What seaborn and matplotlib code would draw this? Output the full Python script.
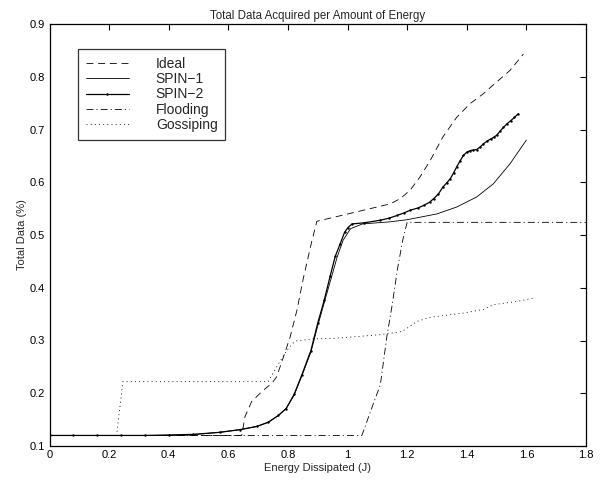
import matplotlib
matplotlib.use("Agg")
import matplotlib.pyplot as plt
import seaborn as sns

# ---------------- data ----------------
ideal_x = [0, 0.645, 0.656, 0.678, 0.712, 0.746, 0.762, 0.785, 0.807, 0.83, 0.852, 0.88, 0.897,
           0.942, 1.054, 1.143, 1.177, 1.21, 1.243, 1.277, 1.32, 1.366, 1.411, 1.456, 1.5, 1.545, 1.59]
ideal_y = [0.12, 0.12, 0.156, 0.184, 0.203, 0.219, 0.231, 0.269, 0.306, 0.357, 0.419, 0.488, 0.526,
           0.532, 0.547, 0.559, 0.569, 0.585, 0.61, 0.641, 0.686, 0.723, 0.749, 0.768, 0.79, 0.812, 0.843]

spin1_x = [0, 0.45, 0.572, 0.639, 0.695, 0.734, 0.768, 0.794, 0.821, 0.846, 0.877, 0.9, 0.922, 0.945,
           0.965, 0.985, 1.01, 1.05, 1.143, 1.2, 1.3, 1.366, 1.433, 1.489, 1.545, 1.6]
spin1_y = [0.12, 0.12, 0.126, 0.131, 0.137, 0.145, 0.158, 0.171, 0.197, 0.232, 0.278, 0.328, 0.372, 0.418,
           0.458, 0.49, 0.512, 0.521, 0.525, 0.529, 0.540, 0.553, 0.572, 0.597, 0.635, 0.68]

spin2_x = [0, 0.08, 0.16, 0.24, 0.32, 0.40, 0.482, 0.572, 0.639, 0.695, 0.734, 0.768, 0.794, 0.821,
           0.846, 0.877, 0.9, 0.922, 0.942, 0.959, 0.975, 0.99, 1.001, 1.015, 1.054, 1.11, 1.14, 1.166,
           1.19, 1.21, 1.235, 1.255, 1.275, 1.289, 1.305, 1.32, 1.333, 1.345, 1.356, 1.366, 1.378, 1.389,
           1.4, 1.411, 1.422, 1.433, 1.445, 1.456, 1.468, 1.48, 1.49, 1.5, 1.512, 1.523, 1.535, 1.548,
           1.56, 1.573]
spin2_y = [0.12, 0.12, 0.12, 0.12, 0.12, 0.121, 0.122, 0.126, 0.131, 0.137, 0.145, 0.158, 0.171, 0.198,
           0.234, 0.281, 0.333, 0.377, 0.423, 0.46, 0.483, 0.505, 0.514, 0.521, 0.523, 0.528, 0.532, 0.537,
           0.542, 0.547, 0.551, 0.556, 0.562, 0.569, 0.578, 0.591, 0.599, 0.607, 0.618, 0.629, 0.641, 0.651,
           0.657, 0.66, 0.661, 0.662, 0.667, 0.673, 0.678, 0.682, 0.685, 0.689, 0.697, 0.704, 0.711, 0.717,
           0.723, 0.73]

flood_x = [0, 1.048, 1.087, 1.11, 1.132, 1.149, 1.168, 1.185, 1.2, 1.8]
flood_y = [0.12, 0.12, 0.181, 0.216, 0.308, 0.365, 0.437, 0.49, 0.524, 0.524]

goss_x = [0, 0.225, 0.246, 0.734, 0.762, 0.796, 0.824, 0.886, 0.953, 1.11, 1.182, 1.21, 1.232, 1.277,
          1.389, 1.456, 1.49, 1.568, 1.621]
goss_y = [0.12, 0.12, 0.222, 0.222, 0.25, 0.281, 0.299, 0.303, 0.304, 0.311, 0.317, 0.327, 0.336, 0.344,
          0.352, 0.359, 0.368, 0.374, 0.38]

labels = ["Ideal", "SPIN\u22121", "SPIN\u22122", "Flooding", "Gossiping"]
x_ticks = [0, 0.2, 0.4, 0.6, 0.8, 1.0, 1.2, 1.4, 1.6, 1.8]
x_ticklabels = ["0", "0.2", "0.4", "0.6", "0.8", "1", "1.2", "1.4", "1.6", "1.8"]
y_ticks = [0.1, 0.2, 0.3, 0.4, 0.5, 0.6, 0.7, 0.8, 0.9]
y_ticklabels = ["0.1", "0.2", "0.3", "0.4", "0.5", "0.6", "0.7", "0.8", "0.9"]

# ---------------- style ----------------
sns.set_theme(style="white")
plt.rcParams["font.family"] = ["Liberation Sans", "DejaVu Sans"]
plt.rcParams["lines.scale_dashes"] = False
plt.rcParams["axes.edgecolor"] = "black"
plt.rcParams["axes.linewidth"] = 0.9

fig = plt.figure(figsize=(6.05, 4.82), dpi=100)
ax = fig.add_axes([49.5 / 605, (482 - 446) / 482, (586 - 49.5) / 605, (446 - 24) / 482])

lw = 0.6
sns.lineplot(x=ideal_x, y=ideal_y, ax=ax, color="black", linewidth=lw,
             linestyle=(0, (5, 3.4)), sort=False, estimator=None, label=labels[0])
sns.lineplot(x=spin1_x, y=spin1_y, ax=ax, color="black", linewidth=lw,
             linestyle="-", sort=False, estimator=None, label=labels[1])
sns.lineplot(x=spin2_x, y=spin2_y, ax=ax, color="black", linewidth=0.9,
             linestyle="-", marker=".", markersize=3.5, markeredgewidth=0,
             sort=False, estimator=None, label=labels[2])
sns.lineplot(x=flood_x, y=flood_y, ax=ax, color="black", linewidth=lw,
             linestyle=(0, (5, 2.2, 0.8, 2.2)), sort=False, estimator=None, label=labels[3])
sns.lineplot(x=goss_x, y=goss_y, ax=ax, color="black", linewidth=lw,
             linestyle=(0, (0.7, 2.3)), sort=False, estimator=None, label=labels[4])

ax.set_xlim(0, 1.8)
ax.set_ylim(0.1, 0.9)
ax.set_xticks(x_ticks)
ax.set_xticklabels(x_ticklabels)
ax.set_yticks(y_ticks)
ax.set_yticklabels(y_ticklabels)
ax.tick_params(direction="in", length=4, width=0.8, top=True, right=True,
               labelsize=8, colors="black", pad=3)
for s in ax.spines.values():
    s.set_visible(True)
    s.set_color("black")

ax.set_title("Total Data Acquired per Amount of Energy", fontsize=8.3, pad=3.5)
ax.set_xlabel("Energy Dissipated (J)", fontsize=8, labelpad=2)
ax.set_ylabel("Total Data (%)", fontsize=8, labelpad=2)

leg = ax.legend(loc="upper left", bbox_to_anchor=((78 - 49.5) / 536.5, (446 - 49) / 422),
                borderaxespad=0, fontsize=10, frameon=True, fancybox=False, shadow=False,
                labelspacing=0.1, handlelength=3.1, handletextpad=1.95, borderpad=0.55)
leg.get_frame().set_edgecolor("black")
leg.get_frame().set_linewidth(0.9)

fig.savefig("out.png", dpi=100)
